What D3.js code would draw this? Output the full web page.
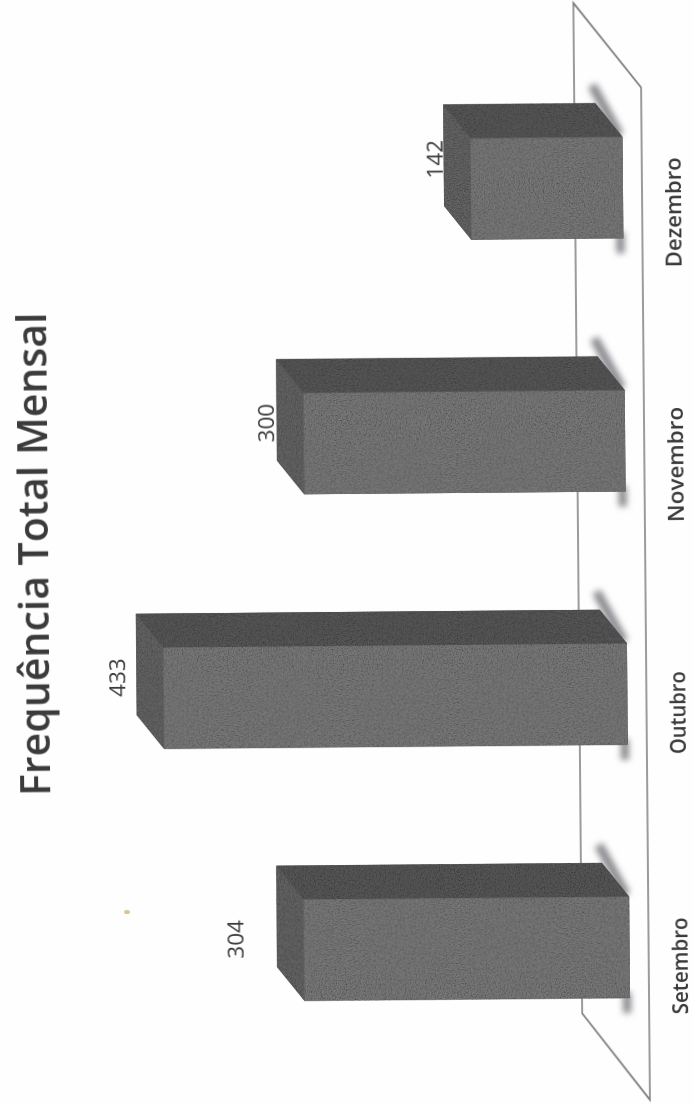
<!doctype html>
<html>
<head>
<meta charset="utf-8">
<script src="https://d3js.org/d3.v7.min.js"></script>
<style>
  html, body { margin: 0; padding: 0; background: #fefefe; }
  svg { display: block; }
  text { font-family: "Open Sans", sans-serif; fill: #3a3a3a; }
</style>
</head>
<body>
<svg id="chart" width="694" height="1104"></svg>
<script>
var titleText = "Frequência Total Mensal";
var months = ["Setembro", "Outubro", "Novembro", "Dezembro"];
var totals = [304, 433, 300, 142];

// hand placed labels in the original
var labelShift = [11.5, 21, 21, 30];
var labelLift = [60, 38.5, 29.5, 28];
var monthShift = [-19, -19, -24, -25];
var monthLength = [97, 83, 115, 110];

var svg = d3.select("#chart");
var defs = svg.append("defs");

// scan grain on the bars
var grain = defs.append("filter").attr("id", "grain")
    .attr("x", "0").attr("y", "0").attr("width", "1").attr("height", "1");
grain.append("feTurbulence").attr("type", "fractalNoise").attr("baseFrequency", 0.8)
    .attr("numOctaves", 2).attr("seed", 4).attr("result", "n");
grain.append("feColorMatrix").attr("in", "n").attr("type", "matrix")
    .attr("values", "0 0 0 0 0  0 0 0 0 0  0 0 0 0 0  1.4 0 0 0 -0.55").attr("result", "d");
grain.append("feComposite").attr("in", "d").attr("in2", "SourceGraphic").attr("operator", "in").attr("result", "dd");
var merge = grain.append("feMerge");
merge.append("feMergeNode").attr("in", "SourceGraphic");
merge.append("feMergeNode").attr("in", "dd");

defs.append("filter").attr("id", "soft").attr("filterUnits", "userSpaceOnUse")
    .attr("x", -100).attr("y", -100).attr("width", 1400).attr("height", 1000)
    .append("feGaussianBlur").attr("stdDeviation", 3);
defs.append("filter").attr("id", "scan")
    .append("feGaussianBlur").attr("stdDeviation", 0.4);
defs.append("filter").attr("id", "scanLine").attr("filterUnits", "userSpaceOnUse")
    .attr("x", -100).attr("y", -100).attr("width", 1400).attr("height", 1000)
    .append("feGaussianBlur").attr("stdDeviation", 0.4);

// the whole chart was scanned on its side, slightly crooked
var g = svg.append("g").attr("transform", "translate(0,1110) rotate(-90.5)");

var x = d3.scaleBand().domain(months).range([106.5, 967.5]).paddingInner(0.6).paddingOuter(0);
var y = d3.scaleLinear().domain([0, 450]).range([631, 149]);

var depthU = 34, depthV = 27;
var line = d3.line();

// floor plane
var floorFront = y(0) + 19, floorBack = y(0) - 48;
g.append("path")
    .attr("d", line([[4.5, floorFront], [1017, floorFront], [1102, floorBack], [91.5, floorBack]]) + "Z")
    .attr("fill", "none").attr("stroke", "#7c7c7c").attr("stroke-width", 1.7).attr("filter", "url(#scanLine)");

var bars = g.selectAll("g.bar").data(months).enter().append("g").attr("class", "bar");

// shadow along the foot of each bar
bars.append("path")
    .attr("d", d => line([[x(d) - 15, y(0) - 3], [x(d) + 6, y(0) - 3]]))
    .attr("stroke", "#88888d").attr("stroke-width", 8).attr("fill", "none").attr("filter", "url(#soft)");
bars.append("path")
    .attr("d", d => line([[x(d) + x.bandwidth() + depthU + 18, y(0) - depthV - 3], [x(d) + x.bandwidth() + 2, y(0) - 3]]))
    .attr("stroke", "#88888d").attr("stroke-width", 9).attr("fill", "none").attr("filter", "url(#soft)");

// backing so no light seams show between faces
bars.append("path")
    .attr("d", (d, i) => {
        var l = x(d), r = l + x.bandwidth(), t = y(totals[i]);
        return line([[l, t], [l + depthU, t - depthV], [r + depthU, t - depthV], [r + depthU, y(0) - depthV], [r, y(0)], [l, y(0)]]) + "Z";
    })
    .attr("fill", "#505050");

// side face, the band above the front face on the page
bars.append("path")
    .attr("d", (d, i) => {
        var r = x(d) + x.bandwidth(), t = y(totals[i]);
        return line([[r, t], [r, y(0)], [r + depthU, y(0) - depthV], [r + depthU, t - depthV]]) + "Z";
    })
    .attr("fill", "#565656").attr("filter", "url(#grain)");

// top face
bars.append("path")
    .attr("d", (d, i) => {
        var l = x(d), r = l + x.bandwidth(), t = y(totals[i]);
        return line([[l, t], [r, t], [r + depthU, t - depthV], [l + depthU, t - depthV]]) + "Z";
    })
    .attr("fill", "#636363").attr("filter", "url(#grain)");

// front face
bars.append("rect")
    .attr("x", d => x(d))
    .attr("width", x.bandwidth())
    .attr("y", (d, i) => y(totals[i]))
    .attr("height", (d, i) => y(0) - y(totals[i]))
    .attr("fill", "#787878").attr("filter", "url(#grain)");

// value labels
bars.append("text")
    .attr("x", (d, i) => x(d) + x.bandwidth() / 2 + labelShift[i])
    .attr("y", (d, i) => y(totals[i]) - labelLift[i])
    .attr("text-anchor", "middle")
    .attr("font-size", 22.5)
    .attr("filter", "url(#scan)")
    .text((d, i) => totals[i]);

// month labels
bars.append("text")
    .attr("x", (d, i) => x(d) + x.bandwidth() / 2 + monthShift[i])
    .attr("y", y(0) + 58)
    .attr("text-anchor", "middle")
    .attr("font-size", 21)
    .attr("font-weight", 600)
    .attr("textLength", (d, i) => monthLength[i])
    .attr("lengthAdjust", "spacingAndGlyphs")
    .attr("filter", "url(#scan)")
    .text(d => d);

// title
g.append("text")
    .attr("x", 555.5)
    .attr("y", 52.8)
    .attr("text-anchor", "middle")
    .attr("font-size", 41)
    .attr("font-weight", 600)
    .attr("filter", "url(#scan)")
    .text(titleText);

// speck left by the scanner
svg.append("ellipse").attr("cx", 127).attr("cy", 912).attr("rx", 3).attr("ry", 2)
    .attr("fill", "#d9c78f").attr("filter", "url(#scan)");
</script>
</body>
</html>
